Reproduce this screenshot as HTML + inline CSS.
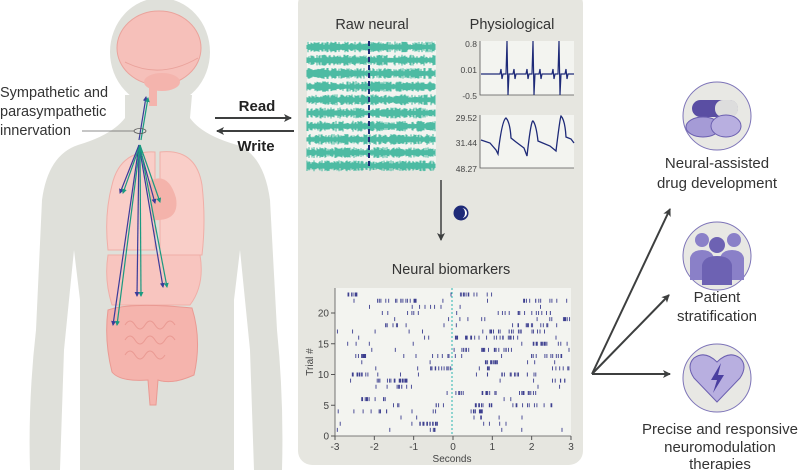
<!DOCTYPE html>
<html><head><meta charset="utf-8">
<style>
html,body{margin:0;padding:0;background:#fff;}
svg{display:block;font-family:"Liberation Sans",sans-serif;}
</style></head>
<body>
<svg id="s" width="800" height="470" viewBox="0 0 800 470" xmlns="http://www.w3.org/2000/svg">
<defs>
<marker id="ah" markerWidth="8" markerHeight="8" refX="7" refY="4" orient="auto" markerUnits="userSpaceOnUse"><path d="M0,0 L8,4 L0,8 L2,4z" fill="#3d3f3f"/></marker>
<marker id="ab" markerWidth="5" markerHeight="5" refX="4" refY="2.5" orient="auto" markerUnits="userSpaceOnUse"><path d="M0,0 L5,2.5 L0,5z" fill="#3b3b9a"/></marker>
<marker id="ag" markerWidth="5" markerHeight="5" refX="4" refY="2.5" orient="auto" markerUnits="userSpaceOnUse"><path d="M0,0 L5,2.5 L0,5z" fill="#1a9a80"/></marker>
</defs>
<!-- body silhouette -->
<g fill="#dfe0da">
<ellipse cx="160" cy="52" rx="50" ry="54"/>
<path d="M125,95 L192,95 L190,118 Q202,135 237,145 Q264,155 270,200 L277,330 Q284,400 282,470 L254,470 L250,350 L240,250 L234,300 L234,470 L80,470 L80,300 L74,250 L64,350 L60,470 L30,470 Q28,400 36,330 L42,200 Q48,155 78,145 Q112,135 125,118 Z"/>
</g>
<!-- panel -->
<rect x="298" y="-10" width="285" height="475" rx="14" fill="#e6e6e0"/>
<!-- brain -->
<ellipse cx="159" cy="48" rx="42" ry="37" fill="#f6c0ba" stroke="#eaa39c" stroke-width="1"/>
<path d="M125,62 Q160,80 198,58" fill="none" stroke="#eaa39c"/>
<ellipse cx="162" cy="82" rx="18" ry="9" fill="#f4b4ad"/>
<rect x="149" y="84" width="8" height="22" fill="#f4b4ad"/>
<!-- lungs -->
<path d="M112,185 Q120,150 155,152 L155,250 L108,250 Q104,215 112,185z" fill="#f9cec8" stroke="#f0aea7"/>
<path d="M160,152 Q196,148 202,185 Q206,220 202,255 L160,255z" fill="#f9cec8" stroke="#f0aea7"/>
<path d="M148,182 Q168,170 176,198 Q180,222 152,220z" fill="#f4b3ab"/>
<!-- liver/stomach -->
<path d="M108,255 L200,255 Q205,285 190,305 L112,305 Q104,280 108,255z" fill="#f8c5bf" stroke="#f0aea7"/>
<!-- intestines -->
<path d="M108,310 Q130,302 192,308 Q202,340 194,375 Q172,385 158,380 L156,405 L150,405 L148,380 Q120,382 112,372 Q104,340 108,310z" fill="#f5b4ad" stroke="#ea9a93"/>
<g fill="none" stroke="#ea9a93" stroke-width="1">
<path d="M125,325 q5,-8 10,0 t10,0 t10,0 t10,0 t10,0"/>
<path d="M125,340 q5,-8 10,0 t10,0 t10,0 t10,0 t10,0"/>
<path d="M125,355 q5,-8 10,0 t10,0 t10,0 t10,0"/>
</g>
<!-- nerves -->
<g stroke-width="1.2" fill="none">
<line x1="139" y1="140" x2="146" y2="97" stroke="#3b3b9a" marker-end="url(#ab)"/>
<line x1="141" y1="140" x2="148" y2="98" stroke="#1a9a80" marker-end="url(#ag)"/>
<g stroke="#3b3b9a" marker-end="url(#ab)">
<line x1="139" y1="145" x2="120" y2="193"/><line x1="139" y1="145" x2="155" y2="203"/>
<line x1="139" y1="145" x2="113" y2="325"/><line x1="139" y1="145" x2="137" y2="296"/>
<line x1="139" y1="145" x2="163" y2="287"/>
</g>
<g stroke="#1a9a80" marker-end="url(#ag)">
<line x1="140" y1="145" x2="123" y2="193"/><line x1="140" y1="145" x2="160" y2="202"/>
<line x1="140" y1="145" x2="117" y2="325"/><line x1="140" y1="145" x2="141" y2="296"/>
<line x1="140" y1="145" x2="167" y2="287"/>
</g>
</g>
<ellipse cx="140" cy="131" rx="6" ry="2.5" fill="none" stroke="#555" stroke-width="0.8"/>
<line x1="82" y1="131" x2="134" y2="131" stroke="#666" stroke-width="0.8"/>
<g font-size="14.5" fill="#333">
<text x="0" y="97">Sympathetic and</text>
<text x="0" y="116">parasympathetic</text>
<text x="0" y="135">innervation</text>
</g>
<!-- read/write -->
<text x="257" y="111" font-size="15" font-weight="bold" text-anchor="middle" fill="#222">Read</text>
<line x1="215" y1="118" x2="291" y2="118" stroke="#3d3f3f" stroke-width="2" marker-end="url(#ah)"/>
<line x1="294" y1="131" x2="217" y2="131" stroke="#3d3f3f" stroke-width="2" marker-end="url(#ah)"/>
<text x="256" y="151" font-size="15" font-weight="bold" text-anchor="middle" fill="#222">Write</text>
<!-- panel titles -->
<g font-size="14.5" fill="#333" text-anchor="middle">
<text x="372" y="29">Raw neural</text>
<text x="512" y="29">Physiological</text>
<text x="451" y="274">Neural biomarkers</text>
</g>
<rect x="307" y="41" width="129" height="127" fill="#f3f4f0"/>
<g id="neural"></g>
<rect x="480" y="41" width="94" height="54" fill="#f3f4f0"/>
<rect x="480" y="115" width="94" height="53" fill="#f3f4f0"/>
<g stroke="#555" stroke-width="0.8" fill="none">
<path d="M480,41 L480,95 L574,95"/><path d="M480,115 L480,168 L574,168"/>
</g>
<g font-size="8.5" fill="#444" text-anchor="end">
<text x="477" y="47">0.8</text><text x="477" y="73">0.01</text><text x="477" y="99">-0.5</text>
<text x="477" y="121">29.52</text><text x="477" y="146">31.44</text><text x="477" y="172">48.27</text>
</g>
<path id="ecg" fill="none" stroke="#1e2a78" stroke-width="1.2"/>
<path d="M481,140 L490,143 L496,150 L498,154 Q502,120 506,118 Q510,122 511,138 L516,142 L524,148 L527,156 Q531,120 533,121 Q536,124 538,141 L550,146 L556,151 Q560,118 561,116 Q565,120 566,137 L571,139 L574,143" fill="none" stroke="#1e2a78" stroke-width="1.3"/>
<!-- down arrow -->
<line x1="441" y1="180" x2="441" y2="240" stroke="#3d3f3f" stroke-width="1.5" marker-end="url(#ah)"/>
<circle cx="461" cy="213" r="7.5" fill="#1e2a78"/>
<path d="M462,208 a5,5 0 0 1 0,10 a3,5 0 0 0 0,-10z" fill="#fff"/>
<!-- raster -->
<rect x="335" y="288" width="236" height="148" fill="#f3f4f0"/>
<g id="raster"></g>
<line x1="452" y1="288" x2="452" y2="436" stroke="#2ab5b0" stroke-width="1" stroke-dasharray="2,2"/>
<path d="M335,288 L335,436 L571,436" stroke="#555" stroke-width="0.8" fill="none"/>
<g id="ticks" font-size="10" fill="#444"></g>
<text x="452" y="462" font-size="10" fill="#444" text-anchor="middle">Seconds</text>
<text transform="translate(313,362) rotate(-90)" font-size="10" fill="#444" text-anchor="middle">Trial #</text>
<!-- right arrows -->
<g stroke="#3d3f3f" stroke-width="2" marker-end="url(#ah)">
<line x1="592" y1="374" x2="670" y2="209"/>
<line x1="592" y1="374" x2="669" y2="295"/>
<line x1="592" y1="374" x2="670" y2="374"/>
</g>
<!-- icons -->
<g stroke="#7d74b8" stroke-width="1" fill="#e8e8e4">
<circle cx="717" cy="116" r="34"/><circle cx="717" cy="256" r="34"/><circle cx="717" cy="378" r="34"/>
</g>
<rect x="692" y="100" width="46" height="17" rx="8.5" fill="#5a4ea3"/>
<rect x="715" y="100" width="23" height="17" rx="8" fill="#ddd"/>
<ellipse cx="703" cy="127" rx="17" ry="10" fill="#a59bd6" stroke="#6b5fb0"/>
<ellipse cx="726" cy="126" rx="15" ry="11" fill="#b8afe0" stroke="#6b5fb0"/>
<g fill="#8a80c8"><circle cx="702" cy="240" r="7"/><circle cx="734" cy="240" r="7"/></g>
<path d="M690,280 L690,258 Q692,250 702,250 Q712,250 714,258 L720,258 Q722,250 732,250 Q742,250 744,258 L744,280z" fill="#8a80c8"/>
<circle cx="717" cy="245" r="8" fill="#6d62b3"/>
<path d="M702,285 L702,265 Q704,256 717,256 Q730,256 732,265 L732,285z" fill="#6d62b3"/>
<path d="M717,402 L694,378 Q686,366 694,358 Q705,350 717,362 Q729,350 740,358 Q748,366 740,378z" fill="#b8afe0" stroke="#6b5fb0"/>
<path d="M721,363 L711,380 L717,380 L713,393 L724,375 L718,375z" fill="#4a3fa0"/>
<g font-size="15" fill="#333" text-anchor="middle">
<text x="717" y="168">Neural-assisted</text>
<text x="717" y="188">drug development</text>
<text x="717" y="302">Patient</text>
<text x="717" y="321">stratification</text>
<text x="720" y="434">Precise and responsive</text>
<text x="720" y="452">neuromodulation</text>
<text x="720" y="469">therapies</text>
</g>
</svg>
<script>
var NS="http://www.w3.org/2000/svg",seed=7;
function r(){seed=(seed*16807)%2147483647;return seed/2147483647;}
function el(p,t,a){var e=document.createElementNS(NS,t);for(var k in a)e.setAttribute(k,a[k]);p.appendChild(e);return e;}
var ng=document.getElementById("neural");
for(var i=0;i<10;i++){var cy=47+i*13.2,d="";for(var x=307;x<436;x+=1){var h=2+r()*3.5;d+="M"+x+","+(cy-h)+"L"+x+","+(cy+h);}
el(ng,"path",{d:d,stroke:"#4dbba3","stroke-width":"1.1"});}
el(ng,"line",{x1:369,y1:41,x2:369,y2:168,stroke:"#1e2a78","stroke-width":"2","stroke-dasharray":"5,3"});
var d="M481,74";var sp=[507,533,559];for(var x=481;x<=574;x+=1){var y=74;for(var j=0;j<3;j++){var dx=x-sp[j];if(dx==0)y=41;if(dx==1)y=95;if(dx==-6||dx==7)y=69;if(dx==-5||dx==8)y=79;}d+="L"+x+","+y;}
document.getElementById("ecg").setAttribute("d",d);
var rg=document.getElementById("raster"),rd="";
for(var t=1;t<=23;t++){var y=436-t*6.15;var nc=1+Math.floor(r()*3);for(var c=0;c<nc;c++){var cx=340+r()*225,w=10+r()*40,n=4+Math.floor(r()*10);for(var k=0;k<n;k++){var x=cx+(r()-0.5)*w;if(x<336||x>570)continue;rd+="M"+x.toFixed(1)+","+(y-2)+"L"+x.toFixed(1)+","+(y+2);}}
var ns=2+Math.floor(r()*5);for(var k=0;k<ns;k++){var x=336+r()*234;rd+="M"+x.toFixed(1)+","+(y-2)+"L"+x.toFixed(1)+","+(y+2);}}
el(rg,"path",{d:rd,stroke:"#3d3f8f","stroke-width":"0.9"});
var tg=document.getElementById("ticks");
for(var s=-3;s<=3;s++){var x=335+(s+3)*39.33;el(tg,"line",{x1:x,y1:436,x2:x,y2:440,stroke:"#555"});var tx=el(tg,"text",{x:x,y:450,"text-anchor":"middle"});tx.textContent=s;}
for(var v=0;v<=20;v+=5){var y=436-v*6.15;el(tg,"line",{x1:331,y1:y,x2:335,y2:y,stroke:"#555"});var tx=el(tg,"text",{x:329,y:y+3.5,"text-anchor":"end"});tx.textContent=v;}
</script>
</body></html>
